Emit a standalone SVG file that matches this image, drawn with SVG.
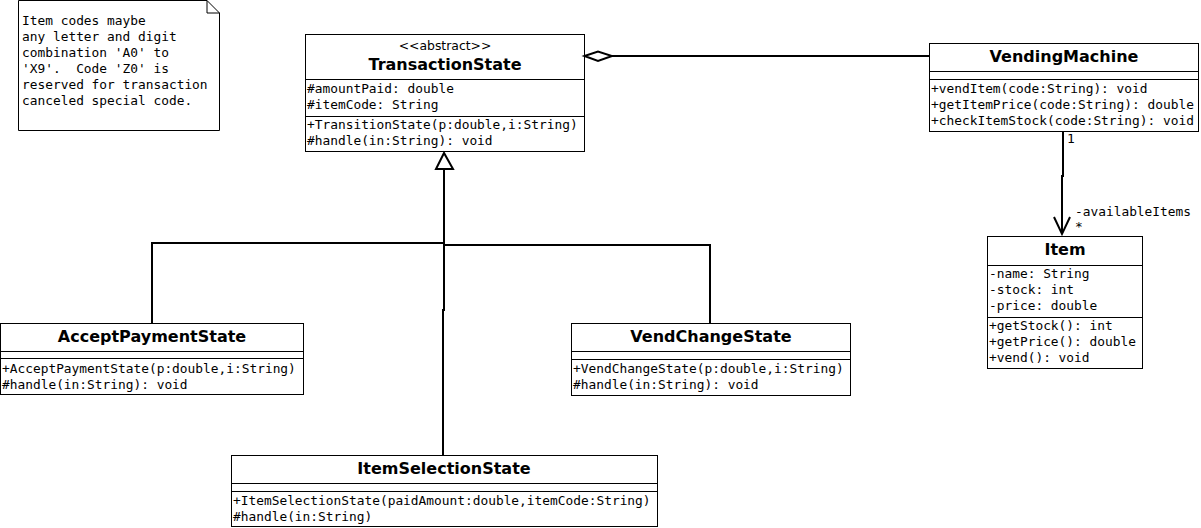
<svg xmlns="http://www.w3.org/2000/svg" width="1201" height="528" viewBox="0 0 1201 528">
<style>
.box{fill:#fff;stroke:#000;stroke-width:1}
.sep{stroke:#000;stroke-width:1}
.name{font-family:"DejaVu Sans",sans-serif;font-weight:bold;font-size:16px;text-anchor:middle;fill:#000}
.stereo{font-family:"DejaVu Sans",sans-serif;font-size:12.4px;text-anchor:middle;fill:#000}
.mem{font-family:"DejaVu Sans Mono",monospace;font-size:12.85px;fill:#000;white-space:pre}
.con{fill:none;stroke:#000;stroke-width:2}
.head{fill:#fff;stroke:#000;stroke-width:2}
</style>
<rect width="1201" height="528" fill="#fff"/>

<g id="note">
<path class="box" d="M18.5,0.5 H207 L219.5,13 V130.5 H18.5 Z"/>
<path class="sep" fill="none" d="M207,0.5 V13 H219.5"/>
<text class="mem" x="22" y="25">Item codes maybe</text>
<text class="mem" x="22" y="41">any letter and digit</text>
<text class="mem" x="22" y="57">combination 'A0' to</text>
<text class="mem" x="22" y="73" xml:space="preserve">'X9'.  Code 'Z0' is</text>
<text class="mem" x="22" y="89">reserved for transaction</text>
<text class="mem" x="22" y="105">canceled special code.</text>
</g>

<g id="TransactionState">
<rect class="box" x="305.5" y="34.5" width="279" height="117"/>
<line class="sep" x1="305" y1="79.5" x2="585" y2="79.5"/>
<line class="sep" x1="305" y1="116.5" x2="585" y2="116.5"/>
<text class="stereo" x="445" y="50">&lt;&lt;abstract&gt;&gt;</text>
<text class="name" x="445" y="69.5">TransactionState</text>
<text class="mem" x="307" y="93">#amountPaid: double</text>
<text class="mem" x="307" y="109">#itemCode: String</text>
<text class="mem" x="307" y="129">+TransitionState(p:double,i:String)</text>
<text class="mem" x="307" y="145">#handle(in:String): void</text>
</g>

<g id="VendingMachine">
<rect class="box" x="929.5" y="43.5" width="269" height="88"/>
<line class="sep" x1="929" y1="71.5" x2="1199" y2="71.5"/>
<line class="sep" x1="929" y1="79.5" x2="1199" y2="79.5"/>
<text class="name" x="1064" y="61.5">VendingMachine</text>
<text class="mem" x="931" y="93">+vendItem(code:String): void</text>
<text class="mem" x="931" y="109">+getItemPrice(code:String): double</text>
<text class="mem" x="931" y="125">+checkItemStock(code:String): void</text>
</g>

<g id="Item">
<rect class="box" x="987.5" y="236.5" width="155" height="132"/>
<line class="sep" x1="987" y1="265.5" x2="1143" y2="265.5"/>
<line class="sep" x1="987" y1="317.5" x2="1143" y2="317.5"/>
<text class="name" x="1065" y="254.5">Item</text>
<text class="mem" x="989" y="278">-name: String</text>
<text class="mem" x="989" y="294">-stock: int</text>
<text class="mem" x="989" y="310">-price: double</text>
<text class="mem" x="989" y="330">+getStock(): int</text>
<text class="mem" x="989" y="346">+getPrice(): double</text>
<text class="mem" x="989" y="362">+vend(): void</text>
</g>

<g id="AcceptPaymentState">
<rect class="box" x="0.5" y="323.5" width="303" height="71"/>
<line class="sep" x1="0" y1="351.5" x2="304" y2="351.5"/>
<line class="sep" x1="0" y1="358.5" x2="304" y2="358.5"/>
<text class="name" x="152" y="341.5">AcceptPaymentState</text>
<text class="mem" x="2" y="373">+AcceptPaymentState(p:double,i:String)</text>
<text class="mem" x="2" y="389">#handle(in:String): void</text>
</g>

<g id="VendChangeState">
<rect class="box" x="571.5" y="323.5" width="279" height="72"/>
<line class="sep" x1="571" y1="351.5" x2="851" y2="351.5"/>
<line class="sep" x1="571" y1="359.5" x2="851" y2="359.5"/>
<text class="name" x="711" y="341.5">VendChangeState</text>
<text class="mem" x="573" y="373">+VendChangeState(p:double,i:String)</text>
<text class="mem" x="573" y="389">#handle(in:String): void</text>
</g>

<g id="ItemSelectionState">
<rect class="box" x="231.5" y="455.5" width="426" height="71"/>
<line class="sep" x1="231" y1="483.5" x2="658" y2="483.5"/>
<line class="sep" x1="231" y1="491.5" x2="658" y2="491.5"/>
<text class="name" x="444" y="473.5">ItemSelectionState</text>
<text class="mem" x="233" y="505">+ItemSelectionState(paidAmount:double,itemCode:String)</text>
<text class="mem" x="233" y="521">#handle(in:String)</text>
</g>

<g id="connectors">
<line class="con" x1="612" y1="56" x2="929" y2="56"/>
<polygon class="head" points="584.5,56 598,51.5 612,56 598,61"/>
<polyline class="con" points="444,169 444,310 443,310 443,455"/>
<polyline class="con" points="152,323 152,243 444,243"/>
<polyline class="con" points="444,245 710,245 710,323"/>
<polygon class="head" points="444,153 436,169 453,169"/>
<polyline class="con" points="1063,132 1063,176 1062,176 1062,234"/>
<polyline class="con" points="1054,217 1062,234 1070,217"/>
<text class="mem" x="1067" y="143">1</text>
<text class="mem" x="1075" y="216">-availableItems</text>
<text class="mem" x="1075" y="231">*</text>
</g>
</svg>
